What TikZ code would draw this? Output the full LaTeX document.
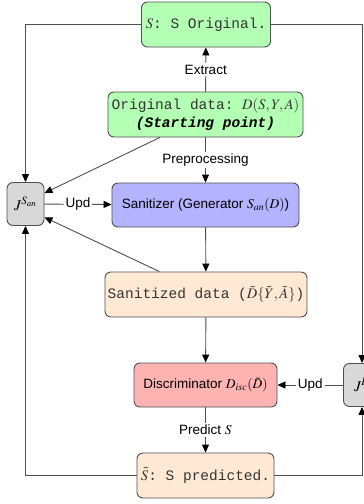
\documentclass[tikz,border=0pt]{standalone}
\usepackage{mathptmx}
\usepackage[no-math]{fontspec}
\setsansfont{Liberation Sans}
\setmonofont{Liberation Mono}
\usetikzlibrary{arrows.meta,calc}
\definecolor{cgreen}{HTML}{B3FFB3}
\definecolor{cblue}{HTML}{B3B3FF}
\definecolor{cpeach}{HTML}{FFE9D4}
\definecolor{cpink}{HTML}{FFB3B3}
\definecolor{cgray}{HTML}{D8D8D8}
\definecolor{cline}{HTML}{505050}
\begin{document}
\begin{tikzpicture}[x=1pt,y=-1pt,
  box/.style={draw=cline,line width=0.9pt,rounded corners=6pt,inner sep=0pt,align=center,
    font=\sffamily\fontsize{13.5}{16}\selectfont},
  tt/.style={font=\ttfamily\fontsize{14.5}{17}\selectfont,text=black!80},
  jbox/.style={box,fill=cgray,minimum width=37pt,minimum height=43pt,
    font=\fontsize{15}{18}\selectfont},
  arr/.style={draw=cline,line width=0.9pt,-{Triangle[length=8pt,width=7pt,color=black]}},
  lbl/.style={fill=white,inner sep=2pt,font=\sffamily\fontsize{13.5}{16}\selectfont}]
\useasboundingbox (0,0) rectangle (364,504);
\clip (0,0) rectangle (364,504);
\fill[white] (0,0) rectangle (364,504);
\node[box,tt,fill=cgreen,minimum width=129pt,minimum height=45pt] (S) at (206,24.5) {$S$: S Original.};
\node[box,tt,fill=cgreen,minimum width=195pt,minimum height=45pt] (orig) at (205.5,114.5)
  {Original data: $D(S,Y,A)$\\[1pt]\textcolor{black}{\textbf{\textit{(Starting point)}}}};
\node[box,fill=cblue,minimum width=187pt,minimum height=44pt] (san) at (205.5,205)
  {Sanitizer (Generator $S_{an}(D)$)};
\node[box,tt,fill=cpeach,minimum width=202pt,minimum height=45pt] (sd) at (206,294.5)
  {Sanitized data ($\tilde{D}\{\tilde{Y},\tilde{A}\}$)};
\node[box,fill=cpink,minimum width=143pt,minimum height=44pt] (disc) at (205.5,385)
  {Discriminator $D_{isc}(\tilde{D})$};
\node[box,tt,fill=cpeach,minimum width=137pt,minimum height=45pt] (pred) at (205.5,475.5)
  {$\tilde{S}$: S predicted.};
\node[jbox] (JS) at (25.5,204) {$J^{S_{an}}$};
\node[jbox] (JD) at (362,385) {$J^{D}$};

\draw[arr] (orig) -- node[lbl] {Extract} (S);
\draw[arr] (orig) -- node[lbl] {Preprocessing} (san);
\draw[arr] (san) -- (sd);
\draw[arr] (sd) -- (disc);
\draw[arr] (disc) -- node[lbl] {Predict $S$} (pred);
\draw[arr] (JS) -- node[lbl] {Upd} (san);
\draw[arr] (JD) -- node[lbl] {Upd} (disc);
\draw[arr] (S.west) -| (JS.north);
\draw[arr] (S.east) -| (JD.north);
\draw[arr] (pred.west) -| (JS.south);
\draw[arr] (pred.east) -| (JD.south);
\draw[arr] ($(orig.south west)!0.267!(orig.south east)$) -- (JS.30);
\draw[arr] ($(sd.north west)!0.27!(sd.north east)$) -- (JS.-35);
\end{tikzpicture}
\end{document}
